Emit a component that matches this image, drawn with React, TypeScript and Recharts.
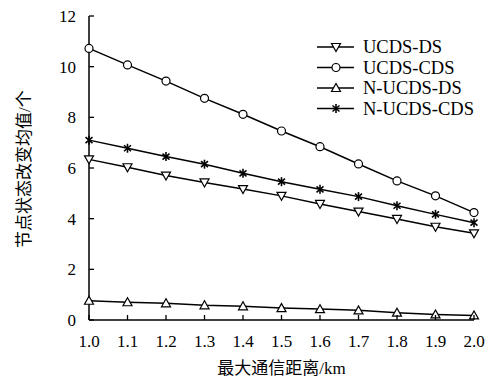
import { LineChart, Line, XAxis, YAxis } from 'recharts';

const distances = [1.0, 1.1, 1.2, 1.3, 1.4, 1.5, 1.6, 1.7, 1.8, 1.9, 2.0];
const ucdsDs = [6.34, 6.03, 5.7, 5.43, 5.17, 4.9, 4.58, 4.28, 3.99, 3.68, 3.42];
const ucdsCds = [10.72, 10.07, 9.43, 8.75, 8.12, 7.46, 6.84, 6.16, 5.49, 4.9, 4.24];
const nUcdsDs = [0.76, 0.7, 0.66, 0.58, 0.54, 0.47, 0.43, 0.38, 0.29, 0.22, 0.18];
const nUcdsCds = [7.1, 6.78, 6.45, 6.15, 5.79, 5.46, 5.16, 4.87, 4.51, 4.17, 3.84];
const xTicks = [1.0, 1.1, 1.2, 1.3, 1.4, 1.5, 1.6, 1.7, 1.8, 1.9, 2.0];
const yTicks = [0, 2, 4, 6, 8, 10, 12];

const series = [
  { key: 'UCDS-DS', values: ucdsDs, marker: 'down' },
  { key: 'UCDS-CDS', values: ucdsCds, marker: 'circle' },
  { key: 'N-UCDS-DS', values: nUcdsDs, marker: 'up' },
  { key: 'N-UCDS-CDS', values: nUcdsCds, marker: 'star' },
];

const data = distances.map((d, i) => {
  const row: Record<string, number> = { x: d };
  series.forEach(s => { row[s.key] = s.values[i]; });
  return row;
});

const serif = '"Liberation Serif", "Times New Roman", serif';
const cjk = '"Liberation Serif", "Noto Sans CJK SC", serif';

function Marker({ cx, cy, type }: { cx: number; cy: number; type: string }) {
  const st = { stroke: '#000', strokeWidth: 1.2, fill: '#fff' };
  if (type === 'circle') return <circle cx={cx} cy={cy} r={4} {...st} />;
  if (type === 'down') {
    return <polygon points={`${cx - 4.5},${cy - 3.5} ${cx + 4.5},${cy - 3.5} ${cx},${cy + 4.5}`} {...st} />;
  }
  if (type === 'up') {
    return <polygon points={`${cx - 4.5},${cy + 3.5} ${cx + 4.5},${cy + 3.5} ${cx},${cy - 4.5}`} {...st} />;
  }
  return (
    <g stroke="#000" strokeWidth={1.6}>
      <line x1={cx} y1={cy - 4.5} x2={cx} y2={cy + 4.5} />
      <line x1={cx - 3.5} y1={cy - 3} x2={cx + 3.5} y2={cy + 3} />
      <line x1={cx - 3.5} y1={cy + 3} x2={cx + 3.5} y2={cy - 3} />
    </g>
  );
}

const XTick = ({ x, y, payload }: any) => (
  <g>
    <line x1={x} y1={y} x2={x} y2={y - 5} stroke="#000" strokeWidth={1.3} />
    <text x={x} y={y + 27} textAnchor="middle" fontSize={17} fontFamily={serif} fill="#000">
      {Number(payload.value).toFixed(1)}
    </text>
  </g>
);

const YTick = ({ x, y, payload }: any) => (
  <g>
    <line x1={x} y1={y} x2={x + 5} y2={y} stroke="#000" strokeWidth={1.3} />
    <text x={x - 13} y={y + 6} textAnchor="end" fontSize={17} fontFamily={serif} fill="#000">
      {payload.value}
    </text>
  </g>
);

// legend drawn as an overlay so it does not steal plot space
const LegendBox = () => (
  <svg width={180} height={90} style={{ position: 'absolute', left: 317, top: 37 }}>
    {series.map((s, i) => {
      const cy = 10 + i * 20.5;
      return (
        <g key={s.key}>
          <line x1={0} y1={cy} x2={37} y2={cy} stroke="#000" strokeWidth={1.5} />
          <Marker cx={19} cy={cy} type={s.marker} />
          <text x={46} y={cy + 6} fontSize={18.5} fontFamily={serif} fill="#000">{s.key}</text>
        </g>
      );
    })}
  </svg>
);

export default function App() {
  return (
    <div style={{ position: 'absolute', left: 0, top: 0, width: 498, height: 381, background: '#fff' }}>
      <LineChart width={498} height={381} data={data} margin={{ top: 16, right: 24, bottom: 21, left: 29 }}>
        <XAxis
          dataKey="x"
          type="number"
          domain={[1, 2]}
          ticks={xTicks}
          height={40}
          tickSize={0}
          tickMargin={0}
          tick={<XTick />}
          axisLine={{ stroke: '#000', strokeWidth: 1.5 }}
          tickLine={false}
          label={{ value: '最大通信距离/km', position: 'insideBottom', dy: 19, fontSize: 17, fontFamily: cjk, fill: '#000' }}
        />
        <YAxis
          type="number"
          domain={[0, 12]}
          ticks={yTicks}
          width={60}
          tickSize={0}
          tickMargin={0}
          tick={<YTick />}
          axisLine={{ stroke: '#000', strokeWidth: 1.5 }}
          tickLine={false}
          label={{ value: '节点状态改变均值/个', angle: -90, position: 'insideLeft', dx: -10, dy: 80, fontSize: 17, fontFamily: cjk, fill: '#000' }}
        />
        {series.map(s => (
          <Line
            key={s.key}
            dataKey={s.key}
            stroke="#000"
            strokeWidth={1.5}
            isAnimationActive={false}
            dot={(p: any) => <Marker key={`${s.key}-${p.index}`} cx={p.cx} cy={p.cy} type={s.marker} />}
          />
        ))}
      </LineChart>
      <LegendBox />
    </div>
  );
}
